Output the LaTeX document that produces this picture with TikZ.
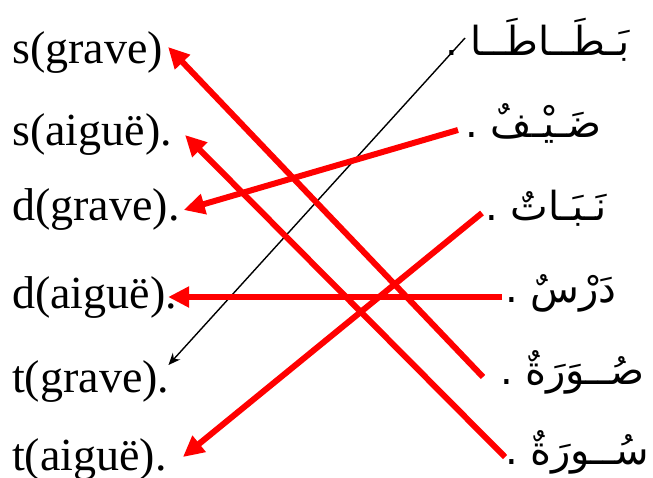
\documentclass[tikz,border=0pt]{standalone}
\usepackage{fontspec}
\setmainfont{Liberation Serif}
\newfontfamily\arabicfont[Script=Arabic]{DejaVu Sans}
\usetikzlibrary{arrows.meta}
\TeXXeTstate=1

\begin{document}
\begin{tikzpicture}[x=1pt,y=-1pt,
    leftlbl/.style={anchor=base west,inner sep=0pt,font=\fontsize{46}{50}\selectfont},
    rightlbl/.style={anchor=base west,inner sep=0pt,font=\arabicfont\fontsize{40}{46}\selectfont},
    redarrow/.style={red,line width=6pt,-{Triangle[length=21pt,width=20pt]}},
    blackarrow/.style={black,line width=1.4pt,-{Stealth[length=12pt,width=10pt]}}]

      \useasboundingbox (0,0) rectangle (653,477);

      % Left labels
      \node[leftlbl] (l1) at (12,63)  {s(grave)};
      \node[leftlbl] (l2) at (12,145) {s(aiguë).};
      \node[leftlbl] (l3) at (12,220) {d(grave).};
      \node[leftlbl] (l4) at (12,308) {d(aiguë).};
      \node[leftlbl] (l5) at (12,392) {t(grave).};
      \node[leftlbl] (l6) at (12,470) {t(aiguë).};

      % Right labels
      \node[rightlbl] (r1) at (445,55)  {\beginR بَـطَــاطَــا .\endR};
      \node[rightlbl] (r2) at (465,137) {\beginR ضَـيْـفٌ .\endR};
      \node[rightlbl] (r3) at (485,220) {\beginR نَـبَـاتٌ .\endR};
      \node[rightlbl] (r4) at (505,302) {\beginR دَرْسٌ .\endR};
      \node[rightlbl] (r5) at (500,384) {\beginR صُــوَرَةٌ .\endR};
      \node[rightlbl] (r6) at (505,464) {\beginR سُــورَةٌ .\endR};

      % Arrows
      \draw[blackarrow] ([shift={(20,-17)}]r1.base west) -- ([shift={(-1,-27)}]l5.base east);
      \draw[redarrow] ([shift={(-17,-7)}]r5.base west) -- ([shift={(5,-16)}]l1.base east);
      \draw[redarrow] ([shift={(0,-7)}]r6.base west) -- ([shift={(13,-10)}]l2.base east);
      \draw[redarrow] ([shift={(-7,-7)}]r2.base west) -- ([shift={(4,-10)}]l3.base east);
      \draw[redarrow] ([shift={(-3,-5)}]r4.base west) -- ([shift={(-9,-11)}]l4.base east);
      \draw[redarrow] ([shift={(-3,-7)}]r3.base west) -- ([shift={(16,-13)}]l6.base east);

\end{tikzpicture}
\end{document}
